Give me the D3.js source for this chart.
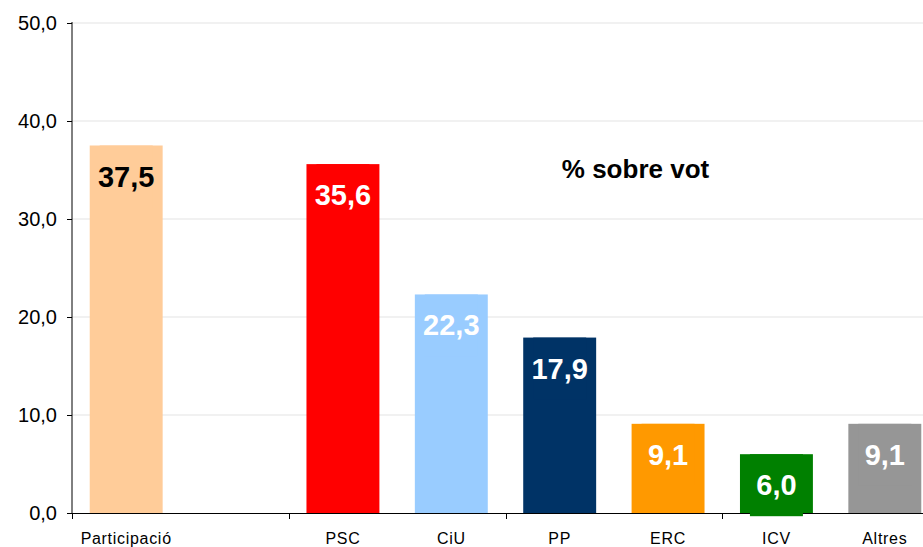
<!DOCTYPE html>
<html><head><meta charset="utf-8">
<script src="https://cdn.jsdelivr.net/npm/d3@7"></script>
<style>body{margin:0;background:#fff}svg{display:block}</style>
</head><body>
<svg id="c" width="923" height="547"></svg>
<script>
const categories = ["Participació", " ", "PSC", "CiU", "PP", "ERC", "ICV", "Altres"];
const values = [37.5, null, 35.6, 22.3, 17.9, 9.1, 6.0, 9.1];
const barColors = ["#FFCC99", "none", "#FF0000", "#99CCFF", "#003366", "#FF9900", "#008000", "#969696"];
const labelColors = ["#000000", "#fff", "#FFFFFF", "#FFFFFF", "#FFFFFF", "#FFFFFF", "#FFFFFF", "#FFFFFF"];
const yTicks = [0, 10, 20, 30, 40, 50];
const title = "% sobre vot";

(function () {
const svg = d3.select("#c");
const mLeft = 72, mRight = 939, mTop = 23, mBottom = 513;
const fmt = v => d3.format(".1f")(v).replace(".", ",");

const x = d3.scaleBand().domain(categories).range([mLeft, mRight]).paddingInner(0.327).paddingOuter(0.1635);
const y = d3.scaleLinear().domain([0, 50]).range([mBottom, mTop]);

// gridlines
svg.append("g").selectAll("line").data(yTicks.filter(t => t > 0)).join("line")
  .attr("x1", mLeft).attr("x2", 923).attr("y1", d => y(d)).attr("y2", d => y(d))
  .attr("stroke", "#e3e3e3").attr("stroke-width", 1);

// y axis
const ya = svg.append("g").attr("transform", `translate(${mLeft},0)`)
  .call(d3.axisLeft(y).tickValues(yTicks).tickFormat(fmt).tickSize(5).tickPadding(10));
ya.select(".domain").attr("stroke", "#000").attr("d", `M0,${mTop - 1}V${mBottom}`);
ya.selectAll(".tick line").attr("stroke", "#000");
ya.selectAll("text").attr("font-family", "Liberation Sans, Arial, sans-serif").attr("font-size", 20).attr("fill", "#000");

// bars
const data = categories.map((c, i) => ({c, v: values[i], i})).filter(d => d.v != null);
svg.append("g").selectAll("rect").data(data).join("rect")
  .attr("x", d => x(d.c)).attr("width", x.bandwidth())
  .attr("y", d => y(d.v)).attr("height", d => y(0) - y(d.v))
  .attr("fill", d => barColors[d.i]);

// x axis line
svg.append("line").attr("x1", mLeft).attr("x2", 923).attr("y1", mBottom + 0.5).attr("y2", mBottom + 0.5)
  .attr("stroke", "#000").attr("stroke-width", 1);
const step = x.step();
const boundaries = d3.range(0, categories.length + 1, 2).map(k => mLeft + k * step);
svg.append("g").selectAll("line").data(boundaries).join("line")
  .attr("x1", d => Math.round(d) + 0.5).attr("x2", d => Math.round(d) + 0.5)
  .attr("y1", mBottom).attr("y2", mBottom + 6).attr("stroke", "#000");

// x labels
svg.append("g").selectAll("text").data(categories).join("text")
  .attr("x", d => x(d) + x.bandwidth() / 2).attr("y", 544)
  .attr("text-anchor", "middle")
  .attr("font-family", "Liberation Sans, Arial, sans-serif").attr("font-size", 16)
  .attr("letter-spacing", 0.7).attr("fill", "#000")
  .text(d => d.trim());

// label backgrounds
svg.append("g").selectAll("rect").data(data).join("rect")
  .attr("x", d => x(d.c) + x.bandwidth() / 2 - 26.5).attr("width", 53)
  .attr("y", d => y(d.v)).attr("height", 62)
  .attr("fill", d => barColors[d.i]);

// data labels
svg.append("g").selectAll("text").data(data).join("text")
  .attr("x", d => x(d.c) + x.bandwidth() / 2).attr("y", d => y(d.v) + 41)
  .attr("text-anchor", "middle")
  .attr("font-family", "Liberation Sans, Arial, sans-serif").attr("font-size", 29).attr("font-weight", "bold")
  .attr("fill", d => labelColors[d.i])
  .text(d => fmt(d.v));

// title
svg.append("text").attr("x", 635.5).attr("y", 178).attr("text-anchor", "middle")
  .attr("font-family", "Liberation Sans, Arial, sans-serif").attr("font-size", 26).attr("font-weight", "bold")
  .attr("fill", "#000").text(title);
})();
</script>
</body></html>
